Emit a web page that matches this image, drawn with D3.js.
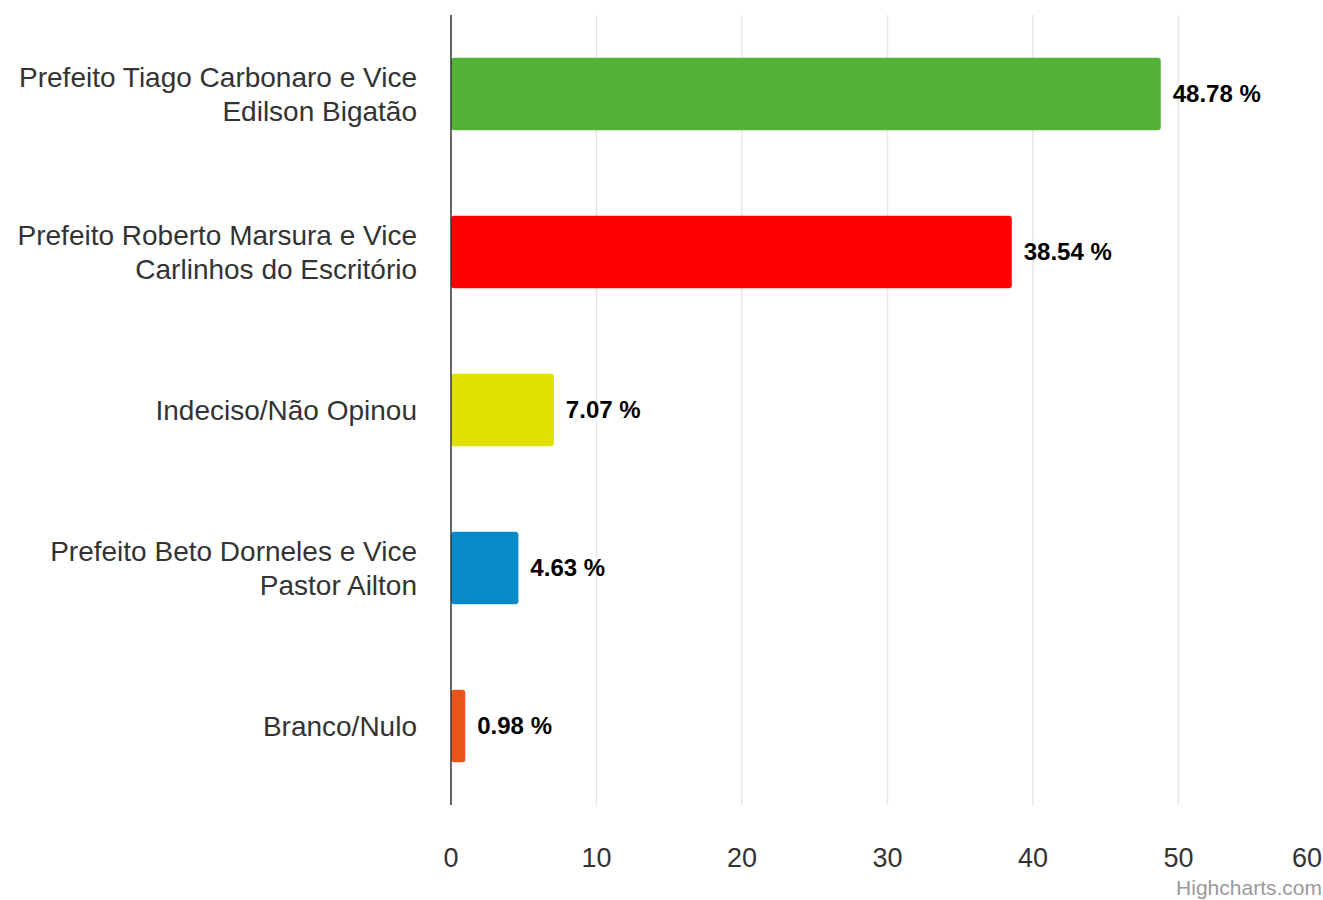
<!DOCTYPE html>
<html>
<head>
<meta charset="utf-8">
<script src="https://cdn.jsdelivr.net/npm/d3@7"></script>
<style>
  body { margin: 0; background: #fff; }
  text { font-family: "Liberation Sans", Arial, sans-serif; }
</style>
</head>
<body>
<script>

var width = 1323,
    height = 900;

var categories = [
    ['Prefeito Tiago Carbonaro e Vice', 'Edilson Bigatão'],
    ['Prefeito Roberto Marsura e Vice', 'Carlinhos do Escritório'],
    ['Indeciso/Não Opinou'],
    ['Prefeito Beto Dorneles e Vice', 'Pastor Ailton'],
    ['Branco/Nulo']
];
var values = [48.78, 38.54, 7.07, 4.63, 0.98];
var colors = ['#52b236', '#ff0000', '#dfdf00', '#078bc9', '#e8561c'];
var ticks = [0, 10, 20, 30, 40, 50, 60];

var margin = {top: 15, left: 451, bottom: 95};

var svg = d3.select('body')
    .append('svg')
    .attr('width', width)
    .attr('height', height);

var x = d3.scaleLinear()
    .domain([0, 60])
    .range([margin.left, 1324]);

var y = d3.scaleBand()
    .domain(d3.range(values.length))
    .range([margin.top, height - margin.bottom])
    .paddingInner(0.54)
    .paddingOuter(0.27);

// grid
svg.selectAll('line.grid')
    .data(ticks.slice(1))
    .enter()
    .append('line')
    .classed('grid', true)
    .attr('x1', function(d) { return x(d); })
    .attr('x2', function(d) { return x(d); })
    .attr('y1', margin.top)
    .attr('y2', height - margin.bottom)
    .style('stroke', '#e6e6e6')
    .style('stroke-width', 1.5);

// bars
svg.selectAll('rect.bar')
    .data(values)
    .enter()
    .append('rect')
    .classed('bar', true)
    .attr('x', x(0))
    .attr('y', function(d, i) { return y(i); })
    .attr('width', function(d) { return x(d) - x(0); })
    .attr('height', y.bandwidth())
    .attr('rx', 3)
    .style('fill', function(d, i) { return colors[i]; });

// axis line
svg.append('line')
    .attr('x1', x(0))
    .attr('x2', x(0))
    .attr('y1', margin.top)
    .attr('y2', height - margin.bottom)
    .style('stroke', '#333')
    .style('stroke-width', 1.5);

// data labels
svg.selectAll('text.val')
    .data(values)
    .enter()
    .append('text')
    .classed('val', true)
    .attr('x', function(d) { return x(d) + 12; })
    .attr('y', function(d, i) { return y(i) + y.bandwidth() / 2; })
    .attr('dy', '0.35em')
    .style('font-size', '24px')
    .style('font-weight', 'bold')
    .style('fill', '#000')
    .text(function(d) { return d.toFixed(2) + ' %'; });

// category labels
var cat = svg.selectAll('text.cat')
    .data(categories)
    .enter()
    .append('text')
    .classed('cat', true)
    .attr('text-anchor', 'end')
    .attr('y', function(d, i) { return y(i) + y.bandwidth() / 2; })
    .style('font-size', '28px')
    .style('fill', '#333');

cat.selectAll('tspan')
    .data(function(d) { return d.map(function(t, j) { return {t: t, j: j, n: d.length}; }); })
    .enter()
    .append('tspan')
    .attr('x', 417)
    .attr('dy', function(d) {
        if (d.j === 0) return (10 - (d.n - 1) * 17) + 'px';
        return '34px';
    })
    .text(function(d) { return d.t; });

// tick labels
svg.selectAll('text.tick')
    .data(ticks)
    .enter()
    .append('text')
    .classed('tick', true)
    .attr('x', function(d, i) { return i === ticks.length - 1 ? width - 1 : x(d); })
    .attr('y', 867)
    .attr('text-anchor', function(d, i) { return i === ticks.length - 1 ? 'end' : 'middle'; })
    .style('font-size', '27px')
    .style('fill', '#333')
    .text(function(d) { return d; });

// credit
svg.append('text')
    .attr('x', 1322)
    .attr('y', 895)
    .attr('text-anchor', 'end')
    .style('font-size', '21px')
    .style('fill', '#999')
    .text('Highcharts.com');

</script>
</body>
</html>
